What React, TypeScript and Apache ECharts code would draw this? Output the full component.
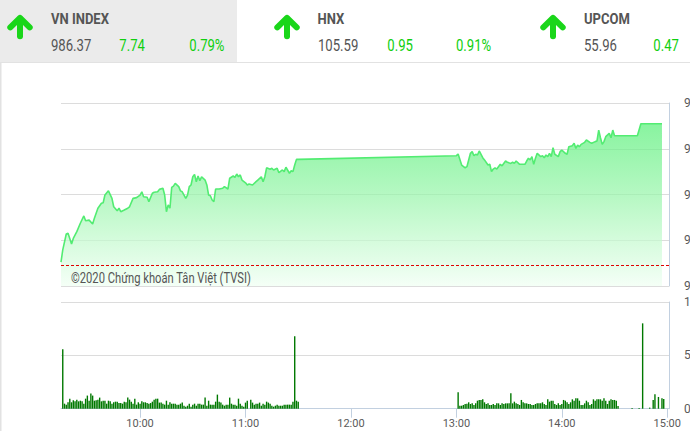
import React, { useEffect, useRef } from "react";
import * as echarts from "echarts";

// ---- Index line (VN-Index intraday) ----
const lineTimes = [
  "09:15","09:16","09:18","09:19","09:21","09:22","09:24","09:26","09:28","09:29",
  "09:31","09:33","09:34","09:36","09:38","09:39","09:40","09:42","09:44","09:45",
  "09:47","09:48","09:49","09:51","09:53","09:54","09:56","09:58","10:00","10:01",
  "10:02","10:04","10:05","10:07","10:08","10:10","10:11","10:13","10:14","10:15",
  "10:16","10:17","10:18","10:19","10:20","10:22","10:23","10:24","10:26","10:27",
  "10:28","10:29","10:30","10:31","10:32","10:33","10:34","10:35","10:37","10:38",
  "10:39","10:40","10:41","10:42","10:43","10:45","10:47","10:48","10:50","10:51",
  "10:53","10:54","10:55","10:56","10:57","10:58","11:00","11:01","11:02","11:04",
  "11:06","11:07","11:09","11:10","11:11","11:12","11:14","11:15","11:16","11:18",
  "11:19","11:21","11:22","11:23","11:25","11:26","11:27","11:28","11:29","11:30",
  "13:00","13:01","13:03","13:05","13:06","13:08","13:09","13:10","13:11","13:12",
  "13:13","13:15","13:16","13:18","13:19","13:20","13:21","13:22","13:23","13:25",
  "13:26","13:28","13:29","13:31","13:32","13:33","13:34","13:36","13:37","13:39",
  "13:40","13:41","13:42","13:43","13:44","13:45","13:46","13:48","13:49","13:50",
  "13:51","13:52","13:53","13:54","13:55","13:56","13:58","13:59","14:00","14:02",
  "14:03","14:04","14:06","14:07","14:08","14:09","14:10","14:11","14:13","14:14",
  "14:16","14:17","14:19","14:20","14:21","14:22","14:23","14:24","14:25","14:27",
  "14:28","14:29","14:30","14:43","14:45","14:57"
];
const lineValues = [
  978.80,979.47,980.34,980.38,979.80,980.10,980.47,980.93,981.33,981.07,
  981.10,980.89,981.20,981.75,982.02,982.05,982.47,982.70,982.29,981.83,
  981.61,981.75,981.56,981.65,981.75,981.83,982.29,982.33,982.47,982.65,
  982.38,982.35,982.11,982.57,982.62,982.65,982.78,982.84,982.47,981.56,
  981.93,981.75,982.89,982.96,983.11,982.93,982.70,982.65,982.29,982.47,
  982.93,983.02,983.47,983.60,983.20,983.51,983.25,983.47,983.29,983.02,
  982.47,982.43,982.20,982.11,982.80,982.80,982.84,982.93,982.80,983.39,
  983.51,983.44,983.62,983.47,983.57,983.29,983.14,983.02,983.07,983.02,
  983.20,983.29,983.47,983.20,983.47,983.96,983.88,983.93,983.84,983.93,
  983.69,983.84,983.75,983.99,983.66,983.80,983.75,984.11,984.42,984.42,
  984.62,984.71,984.11,983.96,984.02,984.75,984.84,984.62,984.70,984.66,
  984.88,984.51,984.39,984.11,984.15,983.75,983.89,983.96,983.89,984.15,
  984.07,984.33,984.26,984.20,984.26,984.20,984.33,984.15,984.15,984.15,
  984.33,984.48,984.39,984.57,984.15,984.48,984.75,984.57,984.62,984.51,
  984.66,984.57,984.75,984.57,985.06,984.70,984.57,984.84,984.93,984.75,
  984.70,985.11,985.17,985.30,985.02,985.20,985.11,985.24,985.35,985.48,
  985.35,985.30,985.39,985.42,986.02,985.60,985.24,985.39,985.66,985.84,
  985.60,986.02,985.71,985.71,986.37,986.37
];
const refPrice = 978.63;

// ---- Volume bars (one per minute) ----
const volMorningStart = "09:16";
const volMorning = [
  5.57,0.47,0.38,0.6,0.94,0.6,0.79,0.69,0.85,0.69,
  0.75,0.69,0.47,0.94,1.23,0.75,1.42,1.23,0.75,0.79,
  0.85,1.04,0.69,0.75,0.75,0.47,0.75,0.69,0.47,0.6,
  0.66,0.66,0.53,0.53,0.47,0.66,0.6,1.04,0.85,0.66,
  0.47,0.94,0.38,0.6,0.47,0.69,0.6,0.6,0.53,0.47,
  0.53,0.66,0.85,0.94,0.94,0.57,0.57,0.47,0.38,0.75,
  0.38,0.6,0.47,0.47,0.47,0.38,0.38,0.47,0.57,0.28,
  0.19,0.28,0.47,0.19,0.38,0.47,0.28,0.47,0.47,0.38,
  0.38,1.04,0.28,0.75,0.38,0.38,0.38,0.66,1.32,0.66,
  0.57,0.38,0.28,0.38,0.38,1.04,0.47,0.38,0.38,0.28,
  0.94,0.47,0.28,0.19,0.57,0.75,0,0.85,0.57,0.38,
  0.47,0.47,0.57,0.28,0.47,0.38,0.66,0.57,0.47,0.28,
  0.19,0.28,0.38,0.28,0.28,0.28,0.38,0.38,0.38,0.38,
  0.38,0.66,6.8,0.75,0.66
];
const volAfternoonStart = "13:01";
const volAfternoon = [
  1.54,0.28,0.28,0.35,0.44,0.47,0.6,0.44,0.5,0.35,
  0.5,0.75,0.82,0.82,0.88,0.6,0.44,0.5,0.35,0.35,
  0.44,0.35,0.5,0.5,0.35,0.5,0.44,0.5,0.5,0.5,
  1.45,0.5,0.66,0.5,0.44,0.35,0.82,0.6,0.5,0.5,
  0.44,0.44,0.35,0.35,0.44,0.5,0.5,0.5,0.6,0.44,
  0.35,0.88,0.66,0.75,0.75,0.44,0.35,0.5,0.35,0.44,
  0.82,0.75,0.6,0.44,0.6,0.88,0.75,0.97,0.97,0.75,
  0.35,0.35,0.5,0.75,0.6,0.35,0.44,0.88,0.75,0.88,
  0.88,0.88,0.75,0.97,0.75,0.44,0.75,0.88,0.82,0.82,
  0.75,0.25
];
const volLateTimes = ["14:40","14:44","14:46","14:50","14:52","14:53","14:55","14:57","14:58"];
const volLate = [0.06,0.06,8.0,0.1,0.82,1.35,1.1,0.97,0.9];

// ---- Axes ----
const axisStart = "09:15";
const axisEnd = "15:01";
const hourTicks = ["10:00","11:00","12:00","13:00","14:00","15:00"];
const priceMin = 977.5;
const priceMax = 987.5;
const priceStep = 2.5;
const volMin = 0;
const volMax = 10;
const volStep = 5;

// ---- Header ----
const indexNames = ["VN INDEX", "HNX", "UPCOM"];
const indexValues = ["986.37", "105.59", "55.96"];
const indexChanges = ["7.74", "0.95", "0.47"];
const indexPcts = ["0.79%", "0.91%"];
const watermark = "©2020 Chứng khoán Tân Việt (TVSI)";

// minutes since midnight
function toMin(hhmm: string): number {
  const [h, m] = hhmm.split(":").map(Number);
  return h * 60 + m;
}
function pad(n: number) {
  return n < 10 ? "0" + n : "" + n;
}
function fmtMin(v: number) {
  const h = Math.floor(v / 60);
  const m = Math.round(v - h * 60);
  return pad(h) + ":" + pad(m);
}

export default function App() {
  const ref = useRef<HTMLDivElement>(null);
  useEffect(() => {
    if (!ref.current) return;
    const chart = echarts.init(ref.current, null, { renderer: "svg" });

    const lineData = lineTimes.map((t, i) => [toMin(t), lineValues[i]]);
    const m0 = toMin(volMorningStart);
    const a0 = toMin(volAfternoonStart);
    const volData = [
      ...volMorning.map((v, i) => [m0 + i, v]),
      ...volAfternoon.map((v, i) => [a0 + i, v]),
      ...volLateTimes.map((t, i) => [toMin(t), volLate[i]]),
    ];
    const hourVals = hourTicks.map(toMin);

    const green = "#0fcf0f";
    const gray = "#555";
    const headerX = [
      { arrow: 20, name: 51, val: 51, chg: 119.3, pct: 189.3 },
      { arrow: 287, name: 317.5, val: 318, chg: 387.3, pct: 456 },
      { arrow: 553, name: 584, val: 584, chg: 653.3, pct: 722 },
    ];
    const graphics: any[] = [
      { type: "rect", shape: { x: 0, y: 0, width: 237, height: 62 }, style: { fill: "#ebebeb" }, silent: true },
      { type: "line", shape: { x1: 0, y1: 62.5, x2: 740, y2: 62.5 }, style: { stroke: "#e2e2e2", lineWidth: 1 }, silent: true },
      { type: "line", shape: { x1: 0.75, y1: 62, x2: 0.75, y2: 431 }, style: { stroke: "#e2e2e2", lineWidth: 1.5 }, silent: true },
    ];
    headerX.forEach((p, i) => {
      const cx = p.arrow;
      graphics.push({
        type: "polyline",
        shape: { points: [[cx - 9.7, 27.3], [cx, 17.8], [cx + 9.7, 27.3]] },
        style: { stroke: "#1ad61a", lineWidth: 6, fill: null, lineCap: "round", lineJoin: "round" },
        silent: true,
      });
      graphics.push({
        type: "line",
        shape: { x1: cx, y1: 19, x2: cx, y2: 36.3 },
        style: { stroke: "#1ad61a", lineWidth: 6, lineCap: "round" },
        silent: true,
      });
      graphics.push({
        type: "text", x: p.name, y: 18.5, scaleX: 0.93,
        style: { text: indexNames[i], fill: gray, font: "bold 14px Roboto", verticalAlign: "middle", align: "left" },
        silent: true,
      });
      graphics.push({
        type: "text", x: p.val, y: 45.5, scaleX: 0.82,
        style: { text: indexValues[i], fill: gray, font: "16px Roboto", verticalAlign: "middle", align: "left" },
        silent: true,
      });
      graphics.push({
        type: "text", x: p.chg, y: 45.5, scaleX: 0.82,
        style: { text: indexChanges[i], fill: green, font: "16px Roboto", verticalAlign: "middle", align: "left" },
        silent: true,
      });
      if (indexPcts[i]) {
        graphics.push({
          type: "text", x: p.pct, y: 45.5, scaleX: 0.82,
          style: { text: indexPcts[i], fill: green, font: "16px Roboto", verticalAlign: "middle", align: "left" },
          silent: true,
        });
      }
    });
    graphics.push({
      type: "text", x: 71, y: 278, scaleX: 0.8, z: 100,
      style: { text: watermark, fill: gray, font: "14px Roboto", verticalAlign: "middle", align: "left" },
      silent: true,
    });

    const axisColor = "#c2d0e0";
    const splitColor = "#dcdcdc";
    const labelFont = "'Liberation Sans Narrow', Roboto";

    chart.setOption({
      animation: false,
      backgroundColor: "#fff",
      grid: [
        { left: 61, top: 103, width: 608, height: 183 },
        { left: 61, top: 302, width: 608, height: 106.7 },
      ],
      xAxis: [
        {
          type: "value", gridIndex: 0, min: toMin(axisStart), max: toMin(axisEnd),
          axisLine: { show: false }, axisTick: { show: false }, axisLabel: { show: false }, splitLine: { show: false },
        },
        {
          type: "value", gridIndex: 1, min: toMin(axisStart), max: toMin(axisEnd),
          axisLine: { show: true, onZero: false, lineStyle: { color: axisColor, width: 1 } },
          axisTick: { show: true, length: 9, lineStyle: { color: axisColor }, customValues: hourVals },
          axisLabel: {
            customValues: hourVals,
            color: "#5a5a5a", fontSize: 11, fontFamily: labelFont, margin: 9,
            formatter: (v: number) => fmtMin(v),
          },
          splitLine: { show: false },
        },
      ],
      yAxis: [
        {
          type: "value", gridIndex: 0, position: "right", min: priceMin, max: priceMax, interval: priceStep,
          axisLine: { show: true, lineStyle: { color: axisColor } },
          axisTick: { show: false },
          axisLabel: { color: "#5a5a5a", fontSize: 12, fontFamily: labelFont, margin: 15 },
          splitLine: { show: true, lineStyle: { color: splitColor, width: 1 } },
        },
        {
          type: "value", gridIndex: 1, position: "right", min: volMin, max: volMax, interval: volStep,
          axisLine: { show: true, lineStyle: { color: axisColor } },
          axisTick: { show: false },
          axisLabel: { color: "#5a5a5a", fontSize: 12, fontFamily: labelFont, margin: 15 },
          splitLine: { show: true, lineStyle: { color: splitColor, width: 1 } },
        },
      ],
      series: [
        {
          type: "line", xAxisIndex: 0, yAxisIndex: 0, data: lineData,
          showSymbol: false, symbol: "none", smooth: false,
          lineStyle: { color: "#52ec72", width: 1.6 },
          areaStyle: {
            origin: "start",
            color: new echarts.graphic.LinearGradient(0, 0, 0, 1, [
              { offset: 0, color: "#56ef77" },
              { offset: 0.45, color: "#98f5aa" },
              { offset: 1, color: "#f0fff3" },
            ]),
          },
          markLine: {
            silent: true, symbol: "none",
            label: { show: false },
            lineStyle: { color: "#e00000", type: [3, 2], width: 1.2 },
            data: [{ yAxis: refPrice }],
          },
          z: 2,
        },
        {
          type: "bar", xAxisIndex: 1, yAxisIndex: 1, data: volData,
          barWidth: 1.4, itemStyle: { color: "#007800" },
          z: 2,
        },
      ],
      graphic: graphics,
    });
    return () => chart.dispose();
  }, []);

  return (
    <div style={{ position: "fixed", left: 0, top: 0, width: 690, height: 431, overflow: "hidden", background: "#fff" }}>
      <div ref={ref} style={{ width: 740, height: 431 }} />
    </div>
  );
}
